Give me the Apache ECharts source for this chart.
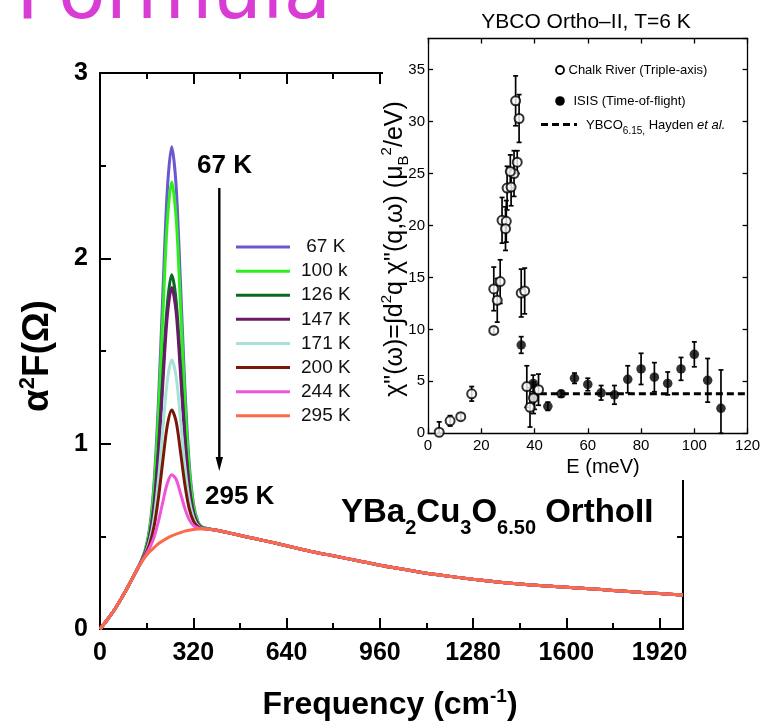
<!DOCTYPE html>
<html><head><meta charset="utf-8">
<script src="https://cdn.jsdelivr.net/npm/echarts@6/dist/echarts.min.js"></script>
<style>html,body{margin:0;padding:0;background:#fff}#c{width:760px;height:726px}</style>
</head><body><div id="c"></div>
<script>
// ---------- main panel: alpha^2 F(Omega) vs frequency (cm^-1) ----------
const freqLow = [0, 25, 50, 75, 100, 125];
const bgLow = [0, 0.05, 0.105, 0.17, 0.24, 0.315];
const freqPeak = [141, 156, 171, 186, 201, 216, 231, 246, 261, 276, 291, 306, 321, 336, 351];
const curve67  = [0.367, 0.431, 0.553, 0.801, 1.242, 1.828, 2.372, 2.602, 2.394, 1.872, 1.309, 0.894, 0.672, 0.579, 0.550];
const curve100 = [0.366, 0.428, 0.540, 0.769, 1.172, 1.706, 2.201, 2.412, 2.223, 1.750, 1.239, 0.862, 0.659, 0.576, 0.549];
const curve126 = [0.364, 0.418, 0.508, 0.683, 0.986, 1.384, 1.753, 1.912, 1.775, 1.428, 1.053, 0.776, 0.627, 0.566, 0.547];
const curve147 = [0.363, 0.417, 0.504, 0.671, 0.960, 1.339, 1.691, 1.842, 1.713, 1.383, 1.027, 0.764, 0.623, 0.565, 0.546];
const curve171 = [0.361, 0.409, 0.479, 0.603, 0.814, 1.088, 1.341, 1.452, 1.363, 1.132, 0.881, 0.696, 0.598, 0.557, 0.544];
const curve200 = [0.360, 0.404, 0.462, 0.557, 0.714, 0.914, 1.099, 1.182, 1.121, 0.958, 0.781, 0.650, 0.581, 0.552, 0.543];
const curve244 = [0.359, 0.397, 0.439, 0.497, 0.584, 0.689, 0.786, 0.832, 0.808, 0.733, 0.651, 0.590, 0.558, 0.545, 0.542];
const curve295 = [0.357, 0.391, 0.418, 0.440, 0.461, 0.476, 0.490, 0.502, 0.512, 0.520, 0.528, 0.533, 0.537, 0.539, 0.540];
const freqHigh = [400, 450, 500, 560, 640, 720, 800, 880, 960, 1040, 1120, 1200, 1280, 1360, 1440, 1520, 1600, 1680, 1760, 1840, 1920, 2000];
const bgHigh = [0.533, 0.516, 0.498, 0.478, 0.449, 0.420, 0.395, 0.370, 0.344, 0.322, 0.301, 0.284, 0.268, 0.254, 0.243, 0.233, 0.225, 0.217, 0.208, 0.199, 0.191, 0.184];
const tempNames = [' 67 K', '100 k', '126 K', '147 K', '171 K', '200 K', '244 K', '295 K'];
const tempColors = ['#6a58d0', '#2cf01c', '#0a6a22', '#6b1a6b', '#a6e2d6', '#7a1808', '#ee55dd', '#fb6a4a'];
const peakCurves = [curve67, curve100, curve126, curve147, curve171, curve200, curve244, curve295];

// ---------- inset: YBCO Ortho-II, T=6 K ----------
const chalkE   = [4.2, 8.3, 12.3, 16.4, 24.7, 24.7, 26.0, 27.1, 27.8, 29.4, 29.1, 29.7, 31.2, 32.3, 30.9, 33.5, 32.9, 34.2, 35.0, 36.3, 37.1, 38.3, 39.6, 41.5];
const chalkV   = [0.1, 1.2, 1.6, 3.8, 9.9, 13.9, 12.8, 14.6, 20.5, 20.4, 19.7, 23.6, 23.7, 25.0, 25.2, 26.1, 32.0, 30.3, 13.5, 13.7, 4.5, 2.5, 3.4, 4.2];
const chalkErr = [1.0, 0.5, 0.3, 0.7, 0.3, 2.1, 2.1, 2.1, 2.2, 2.0, 2.1, 2.1, 1.8, 2.2, 1.6, 1.1, 2.4, 2.3, 2.3, 2.2, 2.0, 1.9, 1.5, 1.5];
const isisE   = [35, 39.5, 40, 45, 50, 55, 60, 65, 70, 75, 80, 85, 90, 95, 100, 105, 110];
const isisV   = [8.5, 4.8, 3.5, 2.6, 3.8, 5.3, 4.7, 3.9, 3.7, 5.2, 6.2, 5.4, 4.8, 6.2, 7.6, 5.1, 2.4];
const isisErr = [0.8, 0.8, 1.2, 0.4, 0.3, 0.5, 0.6, 0.7, 0.9, 1.3, 1.5, 1.4, 1.1, 1.1, 1.2, 2.1, 3.7];
const haydenE = [42, 120];
const haydenV = [3.8, 3.8];

const FONT = '"Liberation Sans", Arial, Helvetica, sans-serif';

function buildCurve(k) {
  const pts = [];
  freqLow.forEach((f, i) => pts.push([f, bgLow[i]]));
  freqPeak.forEach((f, i) => pts.push([f, peakCurves[k][i]]));
  freqHigh.forEach((f, i) => pts.push([f, bgHigh[i]]));
  return pts;
}

function errRender(params, api) {
  const x = api.value(0), y = api.value(1), e = api.value(2);
  const p1 = api.coord([x, y + e]);
  const p2 = api.coord([x, Math.max(0, y - e)]);
  const st = { stroke: '#000', lineWidth: 1.7 };
  return { type: 'group', children: [
    { type: 'line', shape: { x1: p1[0], y1: p1[1], x2: p2[0], y2: p2[1] }, style: st },
    { type: 'line', shape: { x1: p1[0] - 2.5, y1: p1[1], x2: p1[0] + 2.5, y2: p1[1] }, style: st },
    { type: 'line', shape: { x1: p2[0] - 2.5, y1: p2[1], x2: p2[0] + 2.5, y2: p2[1] }, style: st }
  ]};
}

const plain = v => String(v);

const mainAxisCommon = {
  axisLine: { show: true, onZero: false, lineStyle: { color: '#000', width: 2 } },
  axisTick: { show: true, inside: true, length: 11, lineStyle: { color: '#000', width: 2 } },
  minorTick: { show: true, splitNumber: 2, length: 6, lineStyle: { color: '#000', width: 2 } },
  splitLine: { show: false },
  minorSplitLine: { show: false }
};
const mainLabel = { color: '#000', fontFamily: FONT, fontWeight: 'bold', fontSize: 25, formatter: plain };

const insetAxisCommon = {
  axisLine: { show: true, onZero: false, lineStyle: { color: '#000', width: 1.3 } },
  axisTick: { show: true, inside: true, length: 5, lineStyle: { color: '#000', width: 1.3 } },
  splitLine: { show: false },
  z: 60
};
const insetLabel = { color: '#000', fontFamily: FONT, fontSize: 15, formatter: plain };

const series = [];
tempNames.forEach((n, k) => {
  series.push({
    name: n, type: 'line', xAxisIndex: 0, yAxisIndex: 0,
    data: buildCurve(k), smooth: 0.3, showSymbol: false, symbol: 'none',
    lineStyle: { color: tempColors[k], width: 3 }, itemStyle: { color: tempColors[k] },
    z: 2 + k * 0.01
  });
});
series.push({
  name: 'Hayden', type: 'line', xAxisIndex: 2, yAxisIndex: 2, z: 61,
  data: haydenE.map((e, i) => [e, haydenV[i]]), showSymbol: false, symbol: 'none',
  lineStyle: { color: '#000', width: 3, type: [7, 4] }
});
series.push({
  name: 'chalkErr', type: 'custom', xAxisIndex: 2, yAxisIndex: 2, z: 62,
  renderItem: errRender, encode: { x: 0, y: 1 },
  data: chalkE.map((e, i) => [e, chalkV[i], chalkErr[i]])
});
series.push({
  name: 'isisErr', type: 'custom', xAxisIndex: 2, yAxisIndex: 2, z: 62,
  renderItem: errRender, encode: { x: 0, y: 1 },
  data: isisE.map((e, i) => [e, isisV[i], isisErr[i]])
});
series.push({
  name: 'ISIS', type: 'scatter', xAxisIndex: 2, yAxisIndex: 2, z: 63,
  data: isisE.map((e, i) => [e, isisV[i]]), symbol: 'circle', symbolSize: 9.5,
  itemStyle: { color: '#000' }
});
series.push({
  name: 'Chalk', type: 'scatter', xAxisIndex: 2, yAxisIndex: 2, z: 64,
  data: chalkE.map((e, i) => [e, chalkV[i]]), symbol: 'circle', symbolSize: 9,
  itemStyle: { color: '#fff', borderColor: '#000', borderWidth: 2 }
});

const option = {
  animation: false,
  backgroundColor: '#fff',
  tooltip: { show: false },
  grid: [
    { left: 100, right: 77, top: 73, bottom: 97, outerBoundsMode: 'none' },
    { left: 428, right: 12.4, top: 38.5, bottom: 292.7, outerBoundsMode: 'none', z: 60 }
  ],
  xAxis: [
    Object.assign({ type: 'value', gridIndex: 0, position: 'bottom', min: 0, max: 2000, interval: 320,
      axisLabel: Object.assign({ margin: 12, showMaxLabel: false }, mainLabel) }, mainAxisCommon),
    Object.assign({ type: 'value', gridIndex: 0, position: 'top', min: 0, max: 2000, interval: 320,
      axisLabel: { show: false } }, mainAxisCommon),
    Object.assign({ type: 'value', gridIndex: 1, position: 'bottom', min: 0, max: 120, interval: 20,
      axisLabel: Object.assign({ margin: 5 }, insetLabel) }, insetAxisCommon),
    Object.assign({ type: 'value', gridIndex: 1, position: 'top', min: 0, max: 120, interval: 20,
      axisLabel: { show: false } }, insetAxisCommon)
  ],
  yAxis: [
    Object.assign({ type: 'value', gridIndex: 0, position: 'left', min: 0, max: 3, interval: 1,
      axisLabel: Object.assign({ margin: 12 }, mainLabel) }, mainAxisCommon),
    Object.assign({ type: 'value', gridIndex: 0, position: 'right', min: 0, max: 3, interval: 1,
      axisLabel: { show: false } }, mainAxisCommon),
    Object.assign({ type: 'value', gridIndex: 1, position: 'left', min: 0, max: 38, interval: 5,
      axisLabel: Object.assign({ margin: 3, showMaxLabel: false }, insetLabel) }, insetAxisCommon),
    Object.assign({ type: 'value', gridIndex: 1, position: 'right', min: 0, max: 38, interval: 5,
      axisLabel: { show: false } }, insetAxisCommon)
  ],
  legend: {
    show: true, orient: 'vertical', left: 231, top: 230,
    itemWidth: 54, itemHeight: 3, itemGap: 0,
    data: tempNames.map(n => ({ name: n, icon: 'rect' })),
    textStyle: { fontFamily: FONT, fontSize: 19, color: '#111', lineHeight: 24.1, padding: [0, 0, 0, 6] }
  },
  graphic: [
    { type: 'text', z: 1, x: 16, y: -2,
      style: { text: 'Formula', font: 'normal 78px "DejaVu Sans"', fill: '#d93cd5', verticalAlign: 'middle' } },
    { type: 'rect', z: 50, shape: { x: 383, y: 0, width: 377, height: 480 }, style: { fill: '#fff' } },
    // main annotations
    { type: 'text', z: 5, x: 197, y: 166,
      style: { text: '67 K', font: 'bold 26px ' + FONT, fill: '#000', verticalAlign: 'middle' } },
    { type: 'text', z: 5, x: 205, y: 497,
      style: { text: '295 K', font: 'bold 26px ' + FONT, fill: '#000', verticalAlign: 'middle' } },
    { type: 'line', z: 5, shape: { x1: 219.3, y1: 188, x2: 219.3, y2: 460 }, style: { stroke: '#000', lineWidth: 2.4 } },
    { type: 'polygon', z: 5, shape: { points: [[215.6, 457], [223, 457], [219.3, 471]] }, style: { fill: '#000' } },
    { type: 'text', z: 5, x: 341, y: 513,
      style: { text: '{m|YBa}{s|2}{m|Cu}{s|3}{m|O}{s|6.50}{m| OrthoII}', verticalAlign: 'middle',
        rich: {
          m: { fontFamily: FONT, fontWeight: 'bold', fontSize: 33, lineHeight: 51, fill: '#000', verticalAlign: 'middle' },
          s: { fontFamily: FONT, fontWeight: 'bold', fontSize: 20, lineHeight: 20, fill: '#000', verticalAlign: 'bottom' }
        } } },
    // main axis names
    { type: 'text', z: 5, x: 38, y: 356, rotation: Math.PI / 2,
      style: { text: '{m|α}{p|2}{m|F(Ω)}', align: 'center', verticalAlign: 'middle',
        rich: {
          m: { fontFamily: FONT, fontWeight: 'bold', fontSize: 37, lineHeight: 42, fill: '#000', verticalAlign: 'middle' },
          p: { fontFamily: FONT, fontWeight: 'bold', fontSize: 22, lineHeight: 22, fill: '#000', verticalAlign: 'top' }
        } } },
    { type: 'text', z: 5, x: 390, y: 705,
      style: { text: '{m|Frequency (cm}{p|-1}{m|)}', align: 'center', verticalAlign: 'middle',
        rich: {
          m: { fontFamily: FONT, fontWeight: 'bold', fontSize: 32, lineHeight: 36, fill: '#000', verticalAlign: 'middle' },
          p: { fontFamily: FONT, fontWeight: 'bold', fontSize: 19, lineHeight: 19, fill: '#000', verticalAlign: 'top' }
        } } },
    // inset texts
    { type: 'text', z: 70, x: 586, y: 22,
      style: { text: 'YBCO Ortho–II, T=6 K', font: 'normal 21px ' + FONT, fill: '#000', align: 'center', verticalAlign: 'middle' } },
    { type: 'text', z: 70, x: 603, y: 467,
      style: { text: 'E (meV)', font: 'normal 20px ' + FONT, fill: '#000', align: 'center', verticalAlign: 'middle' } },
    { type: 'text', z: 70, x: 395, y: 249, rotation: Math.PI / 2,
      style: { text: '{m|χ"(ω)=∫d}{p|2}{m|q χ"(q,ω) (μ}{s|B}{p|2}{m|/eV)}', align: 'center', verticalAlign: 'middle',
        rich: {
          m: { fontFamily: FONT, fontSize: 25, lineHeight: 32, fill: '#000', verticalAlign: 'middle' },
          p: { fontFamily: FONT, fontSize: 15, lineHeight: 15, fill: '#000', verticalAlign: 'top' },
          s: { fontFamily: FONT, fontSize: 15, lineHeight: 15, fill: '#000', verticalAlign: 'bottom' }
        } } },
    // inset legend
    { type: 'circle', z: 70, shape: { cx: 560, cy: 70, r: 4 }, style: { fill: '#fff', stroke: '#000', lineWidth: 1.8 } },
    { type: 'text', z: 70, x: 568.5, y: 70,
      style: { text: 'Chalk River (Triple-axis)', font: 'normal 13px ' + FONT, fill: '#000', verticalAlign: 'middle' } },
    { type: 'circle', z: 70, shape: { cx: 560, cy: 101, r: 4.8 }, style: { fill: '#000' } },
    { type: 'text', z: 70, x: 573.5, y: 101,
      style: { text: 'ISIS (Time-of-flight)', font: 'normal 13px ' + FONT, fill: '#000', verticalAlign: 'middle' } },
    { type: 'line', z: 70, shape: { x1: 541, y1: 124.5, x2: 577, y2: 124.5 }, style: { stroke: '#000', lineWidth: 3, lineDash: [7, 4] } },
    { type: 'text', z: 70, x: 586, y: 125,
      style: { text: '{m|YBCO}{s|6.15,}{m| Hayden }{i|et al.}', verticalAlign: 'middle',
        rich: {
          m: { fontFamily: FONT, fontSize: 13, lineHeight: 22, fill: '#000', verticalAlign: 'middle' },
          i: { fontFamily: FONT, fontSize: 13, fontStyle: 'italic', lineHeight: 22, fill: '#000', verticalAlign: 'middle' },
          s: { fontFamily: FONT, fontSize: 10, lineHeight: 10, fill: '#000', verticalAlign: 'bottom' }
        } } }
  ],
  series: series
};

const chart = echarts.init(document.getElementById('c'), null, { renderer: 'canvas' });
chart.setOption(option);
</script>
</body></html>
